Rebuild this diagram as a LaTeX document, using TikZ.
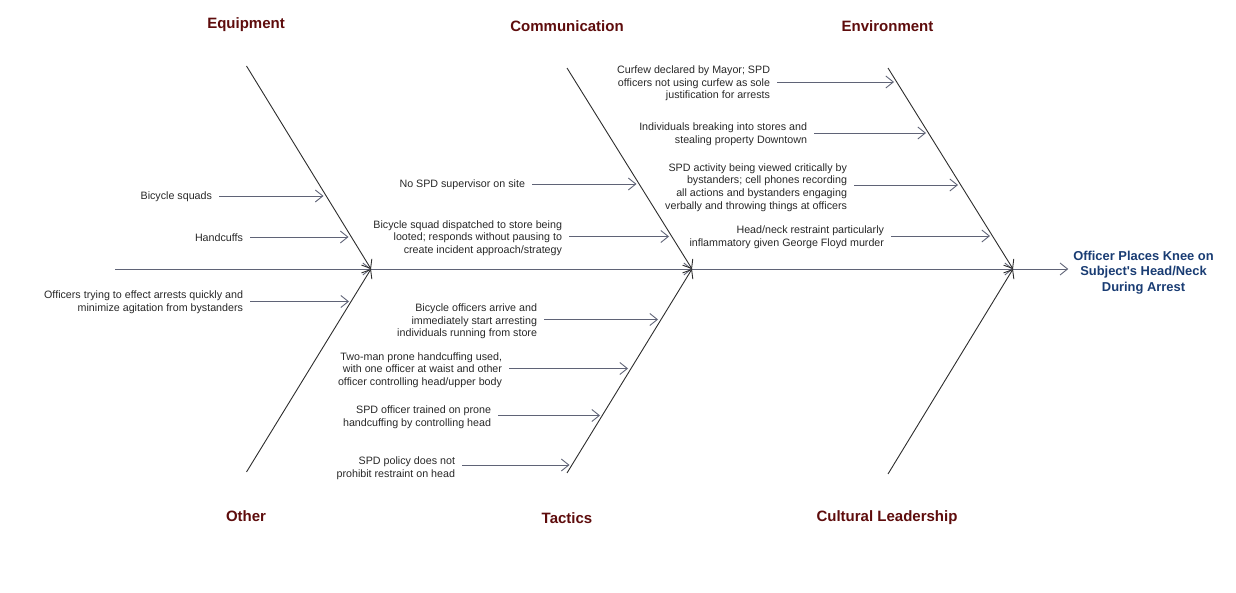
\documentclass[tikz,border=0pt]{standalone}
\usepackage{fontspec}
\setmainfont{Liberation Sans}
\usetikzlibrary{arrows.meta}
\definecolor{titlered}{RGB}{94,12,12}
\definecolor{effectblue}{RGB}{25,60,115}
\definecolor{txt}{RGB}{40,40,40}
\definecolor{armcol}{RGB}{95,99,118}
\definecolor{bonecol}{RGB}{45,45,45}
\begin{document}
\begin{tikzpicture}[x=1pt,y=-1pt,
  arrtip/.style={-{Straight Barb[length=7.5pt,width=12pt]}},
  cat/.style={font=\fontsize{15}{18}\selectfont\bfseries, text=titlered, inner sep=0pt},
  cause/.style={font=\fontsize{10.7}{12.6}\selectfont, text=txt, align=right, anchor=east, inner sep=0pt, outer xsep=7pt},
  bone/.style={draw=bonecol, line width=0.9pt, arrtip},
  arm/.style={draw=armcol, line width=0.9pt, arrtip}]
\useasboundingbox (0,0) rectangle (1236,593);

% junctions and bone ends
\coordinate (S) at (115,269);
\coordinate (J1) at (371,269);
\coordinate (J2) at (692,269);
\coordinate (J3) at (1013,269);
\coordinate (eqT) at (246.5,66);
\coordinate (otB) at (246.5,472);
\coordinate (coT) at (567,68);
\coordinate (taB) at (567,473);
\coordinate (enT) at (888,68);
\coordinate (clB) at (888,474);

% category titles
\node[cat] (tEq) at (246,25) {Equipment};
\node[cat] (tCo) at (567,26.5) {Communication};
\node[cat] (tEn) at (887.5,26.5) {Environment};
\node[cat] (tOt) at (246,516.5) {Other};
\node[cat] (tTa) at (567,518) {Tactics};
\node[cat] (tCl) at (887,518) {Cultural Leadership};

% effect
\node[font=\fontsize{12.9}{15.3}\selectfont\bfseries, text=effectblue, align=center, inner sep=0pt, outer xsep=5pt] (eff) at (1143.5,272.5) {Officer Places Knee on\\Subject\textquotesingle s Head/Neck\\During Arrest};

% spine
\draw[arm] (S) -- (J1);
\draw[arm] (J1) -- (J2);
\draw[arm] (J2) -- (J3);
\draw[arm] (J3) -- (eff.west |- J3);

% bones
\draw[bone] (eqT) -- (J1);
\draw[bone] (otB) -- (J1);
\draw[bone] (coT) -- (J2);
\draw[bone] (taB) -- (J2);
\draw[bone] (enT) -- (J3);
\draw[bone] (clB) -- (J3);

% causes
\node[cause] (c1) at (219,197) {Bicycle squads};
\coordinate (c1e) at (323.5,196);
\node[cause] (c2) at (250,237.5) {Handcuffs};
\coordinate (c2e) at (348.5,237);
\node[cause] (c3) at (250,302.5) {Officers trying to effect arrests quickly and\\minimize agitation from bystanders};
\coordinate (c3e) at (349,301.5);
\node[cause] (c4) at (532,185) {No SPD supervisor on site};
\coordinate (c4e) at (636.5,184);
\node[cause] (c5) at (569,238) {Bicycle squad dispatched to store being\\looted; responds without pausing to\\create incident approach/strategy};
\coordinate (c5e) at (669,236.5);
\node[cause] (c6) at (544,321.5) {Bicycle officers arrive and\\immediately start arresting\\individuals running from store};
\coordinate (c6e) at (658,319.5);
\node[cause] (c7) at (509,370) {Two-man prone handcuffing used,\\with one officer at waist and other\\officer controlling head/upper body};
\coordinate (c7e) at (628,368.5);
\node[cause] (c8) at (498,417) {SPD officer trained on prone\\handcuffing by controlling head};
\coordinate (c8e) at (600,415.5);
\node[cause] (c9) at (462,468) {SPD policy does not\\prohibit restraint on head};
\coordinate (c9e) at (569.5,465);
\node[cause] (c10) at (777,83.5) {Curfew declared by Mayor; SPD\\officers not using curfew as sole\\justification for arrests};
\coordinate (c10e) at (894,82);
\node[cause] (c11) at (814,134) {Individuals breaking into stores and\\stealing property Downtown};
\coordinate (c11e) at (926,133);
\node[cause] (c12) at (854,187.5) {SPD activity being viewed critically by\\bystanders; cell phones recording\\all actions and bystanders engaging\\verbally and throwing things at officers};
\coordinate (c12e) at (958,185);
\node[cause] (c13) at (891,237) {Head/neck restraint particularly\\inflammatory given George Floyd murder};
\coordinate (c13e) at (990,236);

\foreach \i in {1,...,13}{
  \draw[arm] (c\i.east |- c\i e) -- (c\i e);
}
\end{tikzpicture}
\end{document}
